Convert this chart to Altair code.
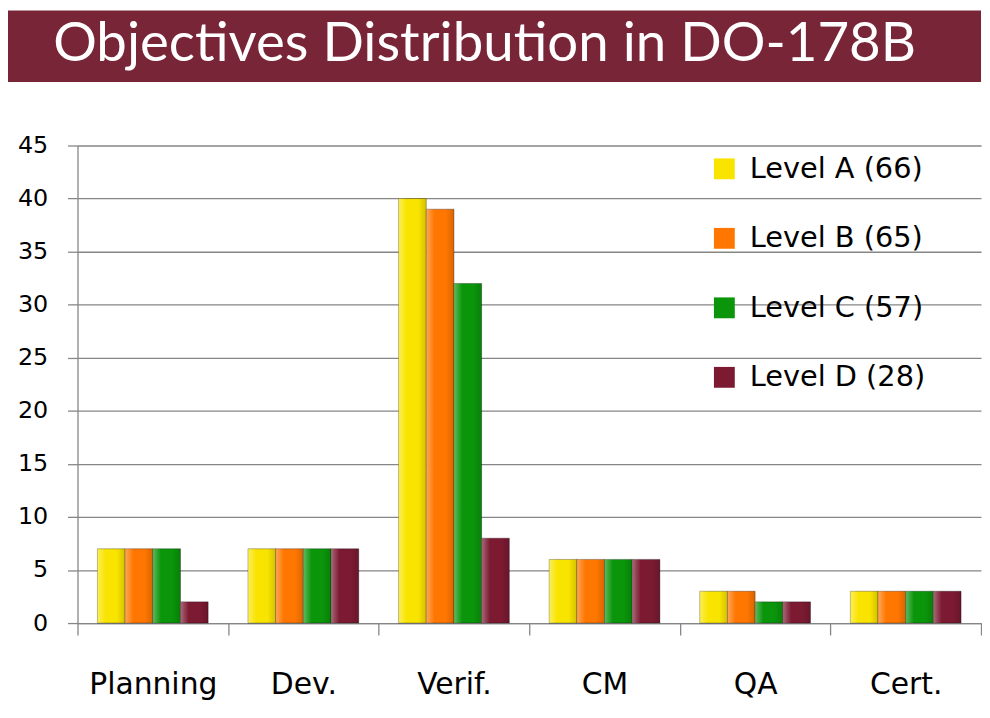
import altair as alt
import pandas as pd

title_text = "Objectives Distribution in DO-178B"
categories = ["Planning", "Dev.", "Verif.", "CM", "QA", "Cert."]
levels = ["Level A (66)", "Level B (65)", "Level C (57)", "Level D (28)"]
level_a = [7, 7, 40, 6, 3, 3]
level_b = [7, 7, 39, 6, 3, 3]
level_c = [7, 7, 32, 6, 2, 3]
level_d = [2, 7, 8, 6, 2, 3]
colors = ["#F9E400", "#FF7700", "#0A950A", "#7C1A32"]
y_ticks = [0, 5, 10, 15, 20, 25, 30, 35, 40, 45]

rows = []
for lvl, vals in zip(levels, [level_a, level_b, level_c, level_d]):
    for cat, v in zip(categories, vals):
        rows.append({"cat": cat, "level": lvl, "value": v})
df = pd.DataFrame(rows)

W, H = 910, 481
GRAY = "#868686"
FONT = "DejaVu Sans"

x = alt.X(
    "cat:N", sort=categories, title=None,
    scale=alt.Scale(paddingInner=0, paddingOuter=0),
    axis=alt.Axis(labelAngle=0, tickBand="extent", tickSize=12, tickColor=GRAY,
                  tickWidth=1.3, domainColor=GRAY, domainWidth=1.3,
                  labelFont=FONT, labelFontSize=30, labelColor="black",
                  labelPadding=35, grid=False),
)
y = alt.Y(
    "value:Q", title=None,
    scale=alt.Scale(domain=[0, 45], nice=False),
    axis=alt.Axis(values=y_ticks, tickSize=10, tickColor=GRAY, tickWidth=1.3,
                  domainColor=GRAY, domainWidth=1.3, gridColor=GRAY, gridWidth=1.3,
                  labelFont=FONT, labelFontSize=24, labelColor="black", labelPadding=20),
)
xo = alt.XOffset("level:N", sort=levels, scale=alt.Scale(paddingOuter=0.72, paddingInner=0))

bars = alt.Chart(df).mark_bar(stroke="rgba(0,0,0,0.3)", strokeWidth=1).encode(
    x=x, y=y, xOffset=xo,
    color=alt.Color(
        "level:N", sort=levels,
        scale=alt.Scale(domain=levels, range=colors),
        legend=alt.Legend(orient="none", legendX=637, legendY=9, title=None,
                          symbolType="square", symbolSize=441, symbolStrokeWidth=0,
                          labelFont=FONT, labelFontSize=29, labelColor="black",
                          labelLimit=400, rowPadding=40, labelOffset=11, padding=0),
    ),
)

shine = alt.Chart(df).mark_bar(
    color=alt.LinearGradient(
        gradient="linear", x1=0, x2=1, y1=0, y2=0,
        stops=[
            alt.GradientStop(color="rgba(255,255,255,0.35)", offset=0),
            alt.GradientStop(color="rgba(255,255,255,0.0)", offset=0.3),
            alt.GradientStop(color="rgba(0,0,0,0.0)", offset=0.7),
            alt.GradientStop(color="rgba(0,0,0,0.15)", offset=1),
        ],
    )
).encode(x=x, y=y, xOffset=xo)

tdf = pd.DataFrame({"t": [title_text]})
banner = alt.Chart(tdf).mark_rect(color="#792538").encode(
    x=alt.value(-70), x2=alt.value(W), y=alt.value(-136), y2=alt.value(-64)
)
title = alt.Chart(tdf).mark_text(
    font="Lato", fontSize=55, color="white", align="center", baseline="alphabetic"
).encode(text="t:N", x=alt.value(410), y=alt.value(-85))

chart = alt.layer(banner, title, bars, shine).properties(
    width=W, height=H, padding=0, background="white"
).configure_view(stroke=None)

chart.save("out.html", embed_options={"renderer": "svg", "actions": False})
